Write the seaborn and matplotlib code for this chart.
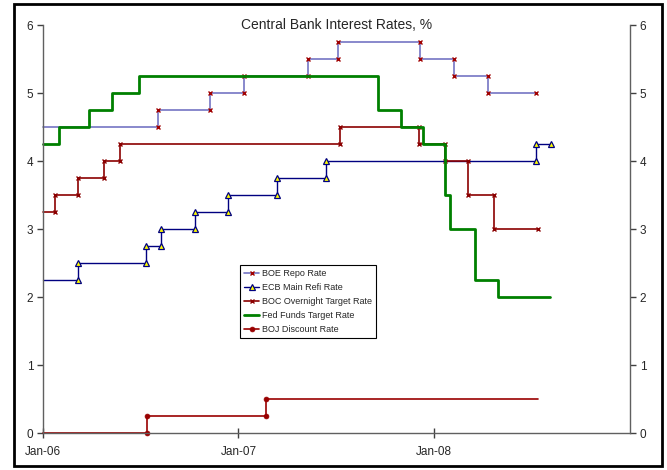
import pandas as pd
import matplotlib
matplotlib.use('Agg')
import matplotlib.pyplot as plt
from matplotlib.lines import Line2D
from matplotlib.patches import Rectangle
import seaborn as sns

# Policy rate changes (last entry = end of the series)
boe_dates = ['2006-01-01', '2006-08-03', '2006-11-09', '2007-01-11', '2007-05-10',
             '2007-07-05', '2007-12-06', '2008-02-07', '2008-04-10', '2008-07-10']
boe_rates = [4.5, 4.75, 5.0, 5.25, 5.5, 5.75, 5.5, 5.25, 5.0, 5.0]

ecb_dates = ['2006-01-01', '2006-03-08', '2006-07-12', '2006-08-09', '2006-10-11',
             '2006-12-13', '2007-03-14', '2007-06-13', '2008-07-09', '2008-08-06']
ecb_rates = [2.25, 2.5, 2.75, 3.0, 3.25, 3.5, 3.75, 4.0, 4.25, 4.25]

boc_dates = ['2006-01-01', '2006-01-24', '2006-03-07', '2006-04-25', '2006-05-24',
             '2007-07-10', '2007-12-04', '2008-01-22', '2008-03-04', '2008-04-22',
             '2008-07-13']
boc_rates = [3.25, 3.5, 3.75, 4.0, 4.25, 4.5, 4.25, 4.0, 3.5, 3.0, 3.0]

fed_dates = ['2006-01-01', '2006-01-31', '2006-03-28', '2006-05-10', '2006-06-29',
             '2007-09-18', '2007-10-31', '2007-12-11', '2008-01-22', '2008-01-30',
             '2008-03-18', '2008-04-30', '2008-08-04']
fed_rates = [4.25, 4.5, 4.75, 5.0, 5.25, 4.75, 4.5, 4.25, 3.5, 3.0, 2.25, 2.0, 2.0]

boj_dates = ['2006-01-01', '2006-07-14', '2007-02-21', '2008-07-13']
boj_rates = [0.0, 0.25, 0.5, 0.5]

tick_dates = ['2006-01-01', '2007-01-01', '2008-01-01']
tick_labels = ['Jan-06', 'Jan-07', 'Jan-08']
y_ticks = [0, 1, 2, 3, 4, 5, 6]


def step_points(dates, rates):
    # Turn a list of rate changes into the corner points of a step line
    dates = pd.to_datetime(dates)
    xs, ys = [dates[0]], [rates[0]]
    for i in range(1, len(dates) - 1):
        xs += [dates[i], dates[i]]
        ys += [rates[i - 1], rates[i]]
    xs.append(dates[-1])
    ys.append(rates[-1])
    return pd.DataFrame({'date': xs, 'rate': ys})


sns.set_style('white')
plt.rcParams['font.family'] = ['Liberation Sans', 'DejaVu Sans']

fig = plt.figure(figsize=(6.67, 4.70), dpi=100)
ax = fig.add_axes([43 / 667, 1 - 433 / 470, 587 / 667, 408 / 470])

series = [
    ('BOE Repo Rate', boe_dates, boe_rates,
     dict(color='#7474C4', lw=1.2, marker='x', ms=3.5, mec='#A00000', mew=1.0)),
    ('ECB Main Refi Rate', ecb_dates, ecb_rates,
     dict(color='#000080', lw=1.0, marker='^', ms=4.2, mfc='#FFFF00', mec='#000080', mew=0.9)),
    ('BOC Overnight Target Rate', boc_dates, boc_rates,
     dict(color='#8B0000', lw=1.2, marker='x', ms=3.5, mec='#8B0000', mew=1.0)),
    ('Fed Funds Target Rate', fed_dates, fed_rates,
     dict(color='#008000', lw=2.0, marker=None)),
    ('BOJ Discount Rate', boj_dates, boj_rates,
     dict(color='#990000', lw=1.2, marker='o', ms=3.5, mfc='#990000', mec='#990000', mew=0.5)),
]

handles = []
for name, dates, rates, style in series:
    pts = step_points(dates, rates)
    n = len(pts)
    # no marker at the axis start; BOJ also has none at its end
    every = slice(1, n - 1) if name.startswith('BOJ') else slice(1, n)
    kws = dict(style)
    if kws.get('marker'):
        kws['markevery'] = every
    sns.lineplot(data=pts, x='date', y='rate', estimator=None, sort=False,
                 ax=ax, clip_on=False, **kws)
    handles.append(Line2D([], [], label=name, **style))

ax.set_xlim(pd.Timestamp('2006-01-01'), pd.Timestamp('2009-01-01'))
ax.set_ylim(0, 6)
ax.set_xticks(pd.to_datetime(tick_dates))
ax.set_xticklabels(tick_labels)
ax.set_yticks(y_ticks)
ax.set_xlabel('')
ax.set_ylabel('')

for side in ['left', 'right', 'bottom']:
    ax.spines[side].set_visible(True)
    ax.spines[side].set_color('#606060')
    ax.spines[side].set_linewidth(1.0)
ax.spines['top'].set_visible(False)

ax.tick_params(axis='y', which='major', direction='out', length=4, width=1,
               color='#404040', labelsize=8.5, left=True, right=True,
               labelleft=True, labelright=True, pad=3)
ax.tick_params(axis='x', which='major', direction='inout', length=7, width=1,
               color='#404040', labelsize=8.5, bottom=True, pad=6)

fig.text((43 + 630) / 2 / 667, 1 - 25 / 470, 'Central Bank Interest Rates, %',
         ha='center', va='center', fontsize=10)

leg = ax.legend(handles=handles, loc='upper left',
                bbox_to_anchor=((240 - 43) / 587, (433 - 265) / 408),
                borderaxespad=0, fontsize=6.5, frameon=True, fancybox=False,
                edgecolor='black', handlelength=1.7, handletextpad=0.3,
                labelspacing=0.55, borderpad=0.45, framealpha=1)
leg.get_frame().set_linewidth(0.8)

# Outer chart border
fig.patches.append(Rectangle((14 / 667, 4 / 470), 648 / 667, 462 / 470,
                             transform=fig.transFigure, fill=False,
                             edgecolor='black', linewidth=2))

fig.savefig('out.png', dpi=100)
